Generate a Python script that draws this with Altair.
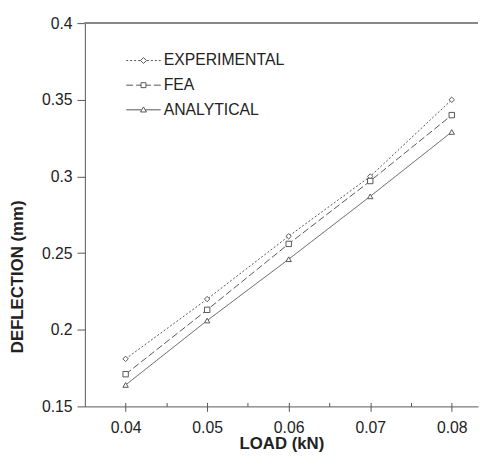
import altair as alt
import pandas as pd

load = [0.04, 0.05, 0.06, 0.07, 0.08]
experimental = [0.181, 0.220, 0.261, 0.300, 0.350]
fea = [0.171, 0.213, 0.256, 0.297, 0.340]
analytical = [0.164, 0.206, 0.246, 0.287, 0.329]
series = ["EXPERIMENTAL", "FEA", "ANALYTICAL"]
x_ticks = [0.04, 0.05, 0.06, 0.07, 0.08]
x_minor = [0.04, 0.045, 0.05, 0.055, 0.06, 0.065, 0.07, 0.075, 0.08]
y_ticks = [0.15, 0.2, 0.25, 0.3, 0.35, 0.4]
x_domain = [0.035, 0.08322]
y_domain = [0.15, 0.4]
y_top = 0.4

rows = []
for name, vals in zip(series, [experimental, fea, analytical]):
    for xv, yv in zip(load, vals):
        rows.append({"load": xv, "defl": yv, "series": name})
df = pd.DataFrame(rows)

FONT = "Liberation Sans"
GRAY = "#555555"
TXT = "#222222"

dashes = {"EXPERIMENTAL": [2, 2], "FEA": [7, 3], "ANALYTICAL": [1, 0]}
shapes = ["diamond", "square", "triangle-up"]

# legend glyphs: dashed line with its marker, drawn left of the label
DX = -20.5


def seg(a, b):
    return f"M{a + DX},0H{b + DX}"


legend_glyphs = {
    "EXPERIMENTAL": "".join(seg(a, a + 2) for a in [-17.5, -13.5, -9.5, -5.5,
                                                    3.5, 7.5, 11.5, 15.5])
    + f"M{DX},-3L{3 + DX},0L{DX},3L{-3 + DX},0Z",
    "FEA": seg(-17.5, -10.5) + seg(-7.5, -2.5) + seg(2.5, 7.5) + seg(10.5, 17.5)
    + f"M{-2.5 + DX},-2.5H{2.5 + DX}V2.5H{-2.5 + DX}Z",
    "ANALYTICAL": seg(-17.5, -2) + seg(2, 17.5)
    + f"M{DX},-3L{3 + DX},2.2H{-3 + DX}Z",
}
legend_rows = {"EXPERIMENTAL": 38, "FEA": 63, "ANALYTICAL": 88}

xscale = alt.Scale(domain=x_domain, nice=False, zero=False)
yscale = alt.Scale(domain=y_domain, nice=False, zero=False)

y_axis = alt.Axis(orient="left", values=y_ticks, format="~g", tickSize=8,
                  labelPadding=5, title="DEFLECTION (mm)", titlePadding=15,
                  titleY=257, grid=False)
x_main = alt.X("load:Q", scale=xscale, axis=alt.Axis(
    orient="bottom", values=x_ticks, format="~g", tickSize=5, labelPadding=8,
    title="LOAD (kN)", titlePadding=1, grid=False))
y_main = alt.Y("defl:Q", scale=yscale, axis=y_axis)

line_layers = []
for name in series:
    line_layers.append(
        alt.Chart(df[df["series"] == name]).mark_line(color=GRAY).encode(
            x=x_main, y=y_main,
            strokeDash=alt.value(dashes[name]),
            strokeWidth=alt.StrokeWidth("series:O", scale=alt.Scale(
                domain=[name], range=[1.2]),
                legend=alt.Legend(orient="none", legendX=80,
                                  legendY=legend_rows[name], title=None,
                                  symbolType=legend_glyphs[name], symbolSize=4,
                                  symbolStrokeColor=GRAY,
                                  symbolFillColor="transparent",
                                  symbolOpacity=1, labelFontSize=16,
                                  labelOffset=19.5, labelColor=TXT,
                                  labelFont=FONT, padding=0)),
            order="load:Q",
        )
    )

points = alt.Chart(df).mark_point(filled=False, strokeWidth=1, size=30,
                                  opacity=1).encode(
    x=x_main, y=y_main,
    stroke=alt.value(GRAY),
    fill=alt.value("white"),
    shape=alt.Shape("series:N", scale=alt.Scale(domain=series, range=shapes),
                    legend=None),
)

top_rule = alt.Chart(df).mark_rule(color="#888888", strokeWidth=1).encode(
    y=alt.YDatum(datum=y_top, scale=yscale, axis=y_axis),
)

inner = alt.layer(*line_layers, points, top_rule).resolve_scale(
    strokeWidth="independent"
).resolve_legend(strokeWidth="independent")

inner_ticks = alt.Chart(df).mark_text(text="").encode(
    x=alt.X("load:Q", scale=xscale, axis=alt.Axis(
        orient="bottom", values=x_minor, tickSize=4, offset=-4, labels=False,
        domain=False, title=None, grid=False, tickColor=GRAY)),
)

chart = alt.layer(inner, inner_ticks).resolve_axis(
    x="independent"
).properties(
    width=399, height=389,
    autosize=alt.AutoSizeParams(type="none"),
    padding={"left": 78, "top": 12, "right": 1, "bottom": 47},
).configure_view(stroke=None).configure_axis(
    labelFont=FONT, titleFont=FONT, labelFontSize=16, titleFontSize=17,
    titleFontWeight="bold", labelColor=TXT, titleColor=TXT,
    domainColor=GRAY, tickColor=GRAY, domainWidth=1, tickWidth=1,
)

chart.save("out.html", embed_options={"renderer": "svg", "actions": False})
